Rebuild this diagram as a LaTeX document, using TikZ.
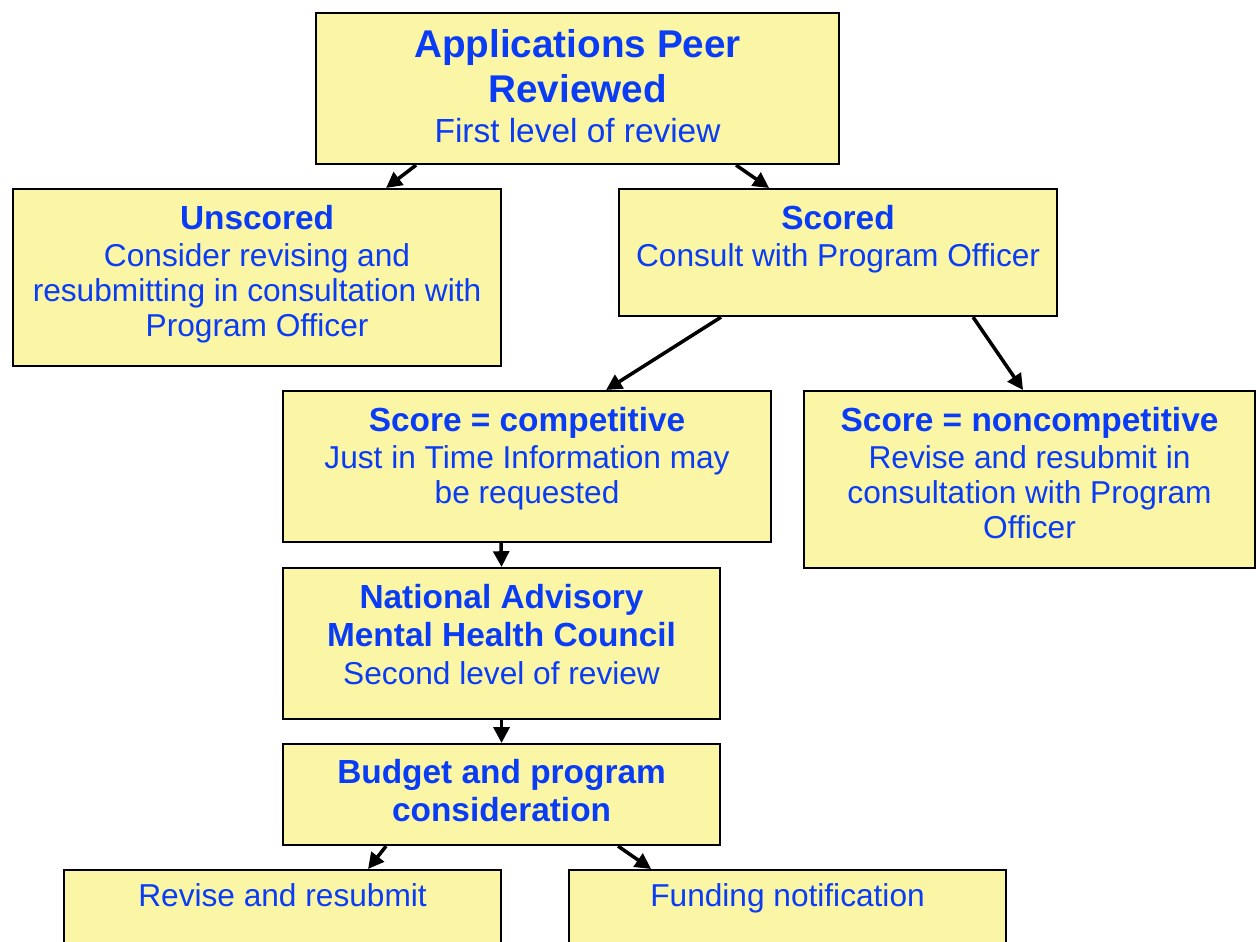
\documentclass[tikz,border=0pt]{standalone}
\usepackage{fontspec}
\setmainfont{Liberation Sans}
\usetikzlibrary{arrows.meta}
\definecolor{boxfill}{RGB}{250,246,165}
\definecolor{inkblue}{RGB}{10,60,245}
\newlength\px
\setlength\px{0.01cm}
\newcommand{\hd}[1]{{\fontsize{9.5}{11}\selectfont\bfseries #1\par}\vspace{0.6pt}}
\newcommand{\bd}[1]{{\fontsize{9}{10}\selectfont #1\par}}
\newcommand{\stagetext}[4]{\parbox[c][#2\px][t]{#1\px}{\centering\rule{0pt}{#3\px}#4}}
\begin{document}
\begin{tikzpicture}[
  x=0.01cm, y=-0.01cm,
  stage/.style={draw, line width=0.6pt, fill=boxfill, text=inkblue, inner sep=0pt, anchor=north west},
  flow/.style={-{Triangle[length=4.5pt,width=4.5pt]}, line width=1pt}
]
\useasboundingbox (0,0) rectangle (1256,941);
\clip (0,0) rectangle (1256,941);
\node[stage] (peer) at (315,12) {\stagetext{523}{151}{44}{{\fontsize{11}{12.8}\selectfont\bfseries Applications Peer\\Reviewed\par}{\fontsize{9.5}{11.6}\selectfont First level of review\par}}};
\node[stage] (unscored) at (12,188) {\stagetext{488}{177}{40}{\hd{Unscored}\bd{Consider revising and\\resubmitting in consultation with\\Program Officer}}};
\node[stage] (scored) at (618,188) {\stagetext{438}{127}{40}{\hd{Scored}\bd{Consult with Program Officer}}};
\node[stage] (comp) at (282,390) {\stagetext{488}{151}{40}{\hd{Score = competitive}\bd{Just in Time Information may\\be requested}}};
\node[stage] (noncomp) at (803,390) {\stagetext{451}{177}{40}{\hd{Score = noncompetitive}\bd{Revise and resubmit in\\consultation with Program\\Officer}}};
\node[stage] (council) at (282,567) {\stagetext{437}{151}{40}{\hd{National Advisory\\Mental Health Council}\bd{Second level of review}}};
\node[stage] (budget) at (282,743) {\stagetext{437}{101}{39}{\hd{Budget and program\\consideration}}};
\node[stage] (revise) at (63,869) {\stagetext{437}{120}{36}{\bd{Revise and resubmit}}};
\node[stage] (funding) at (568,869) {\stagetext{437}{120}{36}{\bd{Funding notification}}};
\draw[flow] ([xshift=-161.5\px]peer.south) -- ([xshift=129\px]unscored.north);
\draw[flow] ([xshift=158.5\px]peer.south) -- ([xshift=-69\px]scored.north);
\draw[flow] ([xshift=-117\px]scored.south) -- ([xshift=79\px]comp.north);
\draw[flow] ([xshift=135\px]scored.south) -- ([xshift=-6.5\px]noncomp.north);
\draw[flow] ([xshift=-26\px]comp.south) -- (council.north);
\draw[flow] (council) -- (budget);
\draw[flow] ([xshift=-115.5\px]budget.south) -- ([xshift=85.5\px]revise.north);
\draw[flow] ([xshift=116.5\px]budget.south) -- ([xshift=-136.5\px]funding.north);
\end{tikzpicture}
\end{document}
